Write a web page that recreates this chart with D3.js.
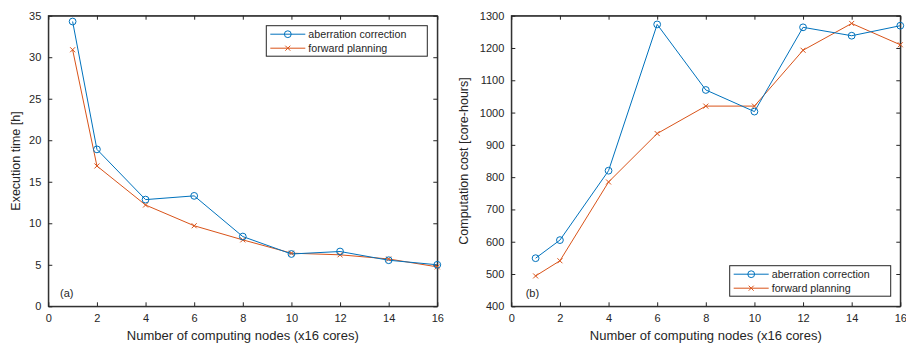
<!DOCTYPE html>
<html>
<head>
<meta charset="utf-8">
<script src="https://cdn.jsdelivr.net/npm/d3@7"></script>
<style>
  body { margin: 0; background: #fff; }
  svg { display: block; font-family: "Liberation Sans", Arial, Helvetica, sans-serif; }
  .tick text { fill: #262626; font-size: 11px; }
</style>
</head>
<body>
<div id="chart"></div>
<script>
// data
var nodes = [1, 2, 4, 6, 8, 10, 12, 14, 16];
var timeAberration = [34.3, 18.9, 12.85, 13.3, 8.4, 6.3, 6.6, 5.55, 5.0];
var timeForward    = [30.9, 16.9, 12.2, 9.7, 8.0, 6.4, 6.2, 5.7, 4.75];
var costAberration = [549, 605, 820, 1273, 1070, 1003, 1264, 1238, 1269];
var costForward    = [494, 541, 785, 935, 1020, 1020, 1193, 1276, 1210];
var xTicks = [0, 2, 4, 6, 8, 10, 12, 14, 16];
var timeTicks = [0, 5, 10, 15, 20, 25, 30, 35];
var costTicks = [400, 500, 600, 700, 800, 900, 1000, 1100, 1200, 1300];
var seriesNames = ['aberration correction', 'forward planning'];

var blue = '#0072BD', orange = '#D95319', ink = '#262626';

var svg = d3.select('#chart').append('svg')
    .attr('width', 906)
    .attr('height', 343);

function drawPanel(opt) {
  var x = d3.scaleLinear().domain([0, 16]).range([opt.left, opt.right]);
  var y = d3.scaleLinear().domain(opt.yDomain).range([306.3, 15.7]);
  var g = svg.append('g');
  var tl = 4;

  // axes, inward ticks on all four sides (box on)
  g.append('g').attr('transform', 'translate(0,306.3)')
    .call(d3.axisBottom(x).tickValues(xTicks).tickSizeInner(-tl).tickSizeOuter(0).tickPadding(8).tickFormat(d3.format('d')));
  g.append('g').attr('transform', 'translate(0,15.7)')
    .call(d3.axisTop(x).tickValues(xTicks).tickSizeInner(-tl).tickSizeOuter(0).tickFormat(''));
  g.append('g').attr('transform', 'translate(' + opt.left + ',0)')
    .call(d3.axisLeft(y).tickValues(opt.yTicks).tickSizeInner(-tl).tickSizeOuter(0).tickPadding(7).tickFormat(d3.format('d')));
  g.append('g').attr('transform', 'translate(' + opt.right + ',0)')
    .call(d3.axisRight(y).tickValues(opt.yTicks).tickSizeInner(-tl).tickSizeOuter(0).tickFormat(''));
  g.selectAll('.domain').attr('stroke', ink);
  g.selectAll('.tick line').attr('stroke', ink);

  g.append('rect')
    .attr('x', opt.left).attr('y', 15.7)
    .attr('width', opt.right - opt.left).attr('height', 306.3 - 15.7)
    .attr('fill', 'none').attr('stroke', ink).attr('stroke-width', 1);

  // axis labels
  g.append('text')
    .attr('x', (opt.left + opt.right) / 2).attr('y', 340)
    .attr('text-anchor', 'middle').attr('font-size', 13).attr('fill', ink)
    .text('Number of computing nodes (x16 cores)');
  g.append('text')
    .attr('transform', 'translate(' + opt.yLabelX + ',' + (15.7 + 306.3) / 2 + ') rotate(-90)')
    .attr('text-anchor', 'middle').attr('font-size', 12.5).attr('fill', ink)
    .text(opt.yLabel);

  g.append('text')
    .attr('x', opt.tagX).attr('y', 297)
    .attr('font-size', 11).attr('fill', ink)
    .text(opt.tag);

  var line = d3.line()
    .x(function(d, i) { return x(nodes[i]); })
    .y(function(d) { return y(d); });

  // forward planning first, aberration on top
  g.append('path').datum(opt.fwd)
    .attr('d', line).attr('fill', 'none').attr('stroke', orange).attr('stroke-width', 1);
  g.append('path').datum(opt.abr)
    .attr('d', line).attr('fill', 'none').attr('stroke', blue).attr('stroke-width', 1);

  g.selectAll('.xm').data(opt.fwd).enter().append('path')
    .attr('d', 'M-2.5,-2.5L2.5,2.5M-2.5,2.5L2.5,-2.5')
    .attr('transform', function(d, i) { return 'translate(' + x(nodes[i]) + ',' + y(d) + ')'; })
    .attr('stroke', orange).attr('stroke-width', 1);
  g.selectAll('.cm').data(opt.abr).enter().append('circle')
    .attr('cx', function(d, i) { return x(nodes[i]); })
    .attr('cy', function(d) { return y(d); })
    .attr('r', 3.4)
    .attr('fill', 'none').attr('stroke', blue).attr('stroke-width', 1);

  // legend
  var lg = g.append('g').attr('transform', 'translate(' + opt.legX + ',' + opt.legY + ')');
  lg.append('rect')
    .attr('width', 161).attr('height', 30.5)
    .attr('fill', '#fff').attr('stroke', ink).attr('stroke-width', 1);
  var rows = lg.selectAll('.row').data(seriesNames).enter().append('g')
    .attr('transform', function(d, i) { return 'translate(0,' + (8.5 + i * 14) + ')'; });
  rows.append('line')
    .attr('x1', 4).attr('x2', 39).attr('y1', 0).attr('y2', 0)
    .attr('stroke', function(d, i) { return i === 0 ? blue : orange; });
  rows.filter(function(d, i) { return i === 0; }).append('circle')
    .attr('cx', 21.5).attr('cy', 0).attr('r', 3.4)
    .attr('fill', 'none').attr('stroke', blue);
  rows.filter(function(d, i) { return i === 1; }).append('path')
    .attr('d', 'M19,-2.5L24,2.5M19,2.5L24,-2.5')
    .attr('stroke', orange);
  rows.append('text')
    .attr('x', 42).attr('y', 3.6)
    .attr('font-size', 10.7).attr('fill', ink)
    .text(function(d) { return d; });
}

drawPanel({
  left: 48.3, right: 437.3,
  yDomain: [0, 35], yTicks: timeTicks,
  yLabel: 'Execution time [h]', yLabelX: 20,
  tag: '(a)', tagX: 60,
  abr: timeAberration, fwd: timeForward,
  legX: 266.3, legY: 25.7
});

drawPanel({
  left: 511.3, right: 900.3,
  yDomain: [400, 1300], yTicks: costTicks,
  yLabel: 'Computation cost [core-hours]', yLabelX: 468,
  tag: '(b)', tagX: 525.7,
  abr: costAberration, fwd: costForward,
  legX: 729.7, legY: 265.7
});
</script>
</body>
</html>
